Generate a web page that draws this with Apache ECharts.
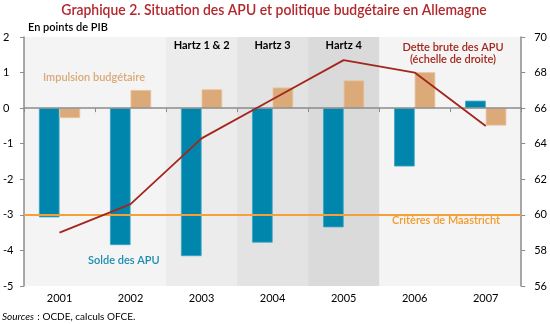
<!DOCTYPE html>
<html><head><meta charset="utf-8">
<script src="https://cdn.jsdelivr.net/npm/echarts@6/dist/echarts.min.js"></script>
<style>html,body{margin:0;padding:0;background:#fff}#c{width:550px;height:324px}</style>
</head><body><div id="c"></div>
<script>
var categories = ['2001','2002','2003','2004','2005','2006','2007'];
var soldeAPU = [-3.07, -3.85, -4.16, -3.78, -3.35, -1.64, 0.21];
var impulsion = [-0.28, 0.51, 0.53, 0.58, 0.78, 1.01, -0.49];
var detteBrute = [59.0, 60.6, 64.3, 66.5, 68.7, 68.0, 65.0];
var maastricht = -3;
var leftTicks = [2, 1, 0, -1, -2, -3, -4, -5];
var rightTicks = [70, 68, 66, 64, 62, 60, 58, 56];
var hartzLabels = [null, null, 'Hartz 1 & 2', 'Hartz 3', 'Hartz 4', null, null];
var hartzColors = [null, null, '#ececec', '#e3e3e3', '#dadada', null, null];

var FONT = 'Lato, "Open Sans", sans-serif';
var chart = echarts.init(document.getElementById('c'), null, {renderer:'canvas'});
var bandData = categories.map(function(c,i){
  return hartzColors[i] ? {value:1, itemStyle:{color:hartzColors[i]}, label:{show:true, formatter:hartzLabels[i]}} : {value:null};
});
chart.setOption({
  animation:false,
  textStyle:{fontFamily:FONT},
  grid:{left:23, right:23, top:37, bottom:38, show:true, backgroundColor:'#f4f4f4', borderWidth:0},
  xAxis:[
    {type:'category', data:categories, axisLine:{onZero:true, lineStyle:{color:'#8c8c8c', width:1.5}},
     axisTick:{show:true, inside:false, length:4, lineStyle:{color:'#8c8c8c'}}, axisLabel:{show:false}, z:5},
    {type:'category', data:categories, position:'bottom', axisLine:{show:false, onZero:false}, axisTick:{show:false},
     axisLabel:{show:true, color:'#000', fontSize:11, fontFamily:FONT, margin:7}},
    {type:'category', data:categories, show:false}
  ],
  yAxis:[
    {type:'value', min:-5, max:2, interval:1, position:'left',
     axisLine:{show:true, lineStyle:{color:'#8c8c8c', width:1.5}}, axisTick:{show:true, length:4, lineStyle:{color:'#8c8c8c'}},
     splitLine:{show:false}, axisLabel:{color:'#000', fontSize:11, fontFamily:FONT, align:'left', margin:21}},
    {type:'value', min:56, max:70, interval:2, position:'right',
     axisLine:{show:true, lineStyle:{color:'#8c8c8c', width:1.5}}, axisTick:{show:true, length:4, lineStyle:{color:'#8c8c8c'}},
     splitLine:{show:false}, axisLabel:{color:'#000', fontSize:11, fontFamily:FONT, margin:13}},
    {type:'value', min:0, max:1, show:false}
  ],
  series:[
    {type:'bar', xAxisIndex:2, yAxisIndex:2, data:bandData, barWidth:'100%', z:0, silent:true,
     label:{position:'insideTop', distance:3, color:'#000', fontWeight:'bold', fontSize:11, fontFamily:FONT}},
    {name:'Solde des APU', type:'bar', xAxisIndex:0, yAxisIndex:0, data:soldeAPU, barGap:'0%', barCategoryGap:'42%',
     itemStyle:{color:'#0086ad', borderColor:'#3aa5c6', borderWidth:0.8}, z:3,
     markLine:{silent:true, symbol:'none', label:{show:false}, lineStyle:{color:'#f5a13a', width:2, type:'solid'}, data:[{yAxis:maastricht}]}},
    {name:'Impulsion budgétaire', type:'bar', xAxisIndex:0, yAxisIndex:0, data:impulsion,
     itemStyle:{color:'#dcaa78', borderColor:'#e9c49e', borderWidth:0.8}, z:3},
    {name:'Dette brute des APU', type:'line', xAxisIndex:0, yAxisIndex:1, data:detteBrute, symbol:'none',
     lineStyle:{color:'#a3261c', width:1.8}, z:6}
  ],
  graphic:[
    {type:'text', x:274, y:3, scaleX:0.93, originX:0, originY:0, style:{text:'Graphique 2. Situation des APU et politique budgétaire en Allemagne', fill:'#b3262b', font:'600 15px '+FONT, align:'center'}},
    {type:'text', left:28, top:22, style:{text:'En points de PIB', fill:'#000', font:'600 11px '+FONT}},
    {type:'text', left:43, top:72, style:{text:'Impulsion budgétaire', fill:'#dba877', font:'600 11px '+FONT}},
    {type:'text', left:88, top:255, style:{text:'Solde des APU', fill:'#1a8cb1', font:'600 11px '+FONT}},
    {type:'text', left:392, top:215, style:{text:'Critères de Maastricht', fill:'#f39b2c', font:'600 11px '+FONT}},
    {type:'text', x:453, y:41, style:{text:'Dette brute des APU\n(échelle de droite)', fill:'#a3261c', font:'600 11px '+FONT, align:'center', lineHeight:12}},
    {type:'text', left:2, top:311, style:{rich:{i:{fontStyle:'italic', fontSize:10, fontFamily:FONT, fill:'#000'}, n:{fontSize:10, fontFamily:FONT, fill:'#000'}}, text:'{i|Sources} {n|: OCDE, calculs OFCE.}'}}
  ]
});
</script></body></html>
